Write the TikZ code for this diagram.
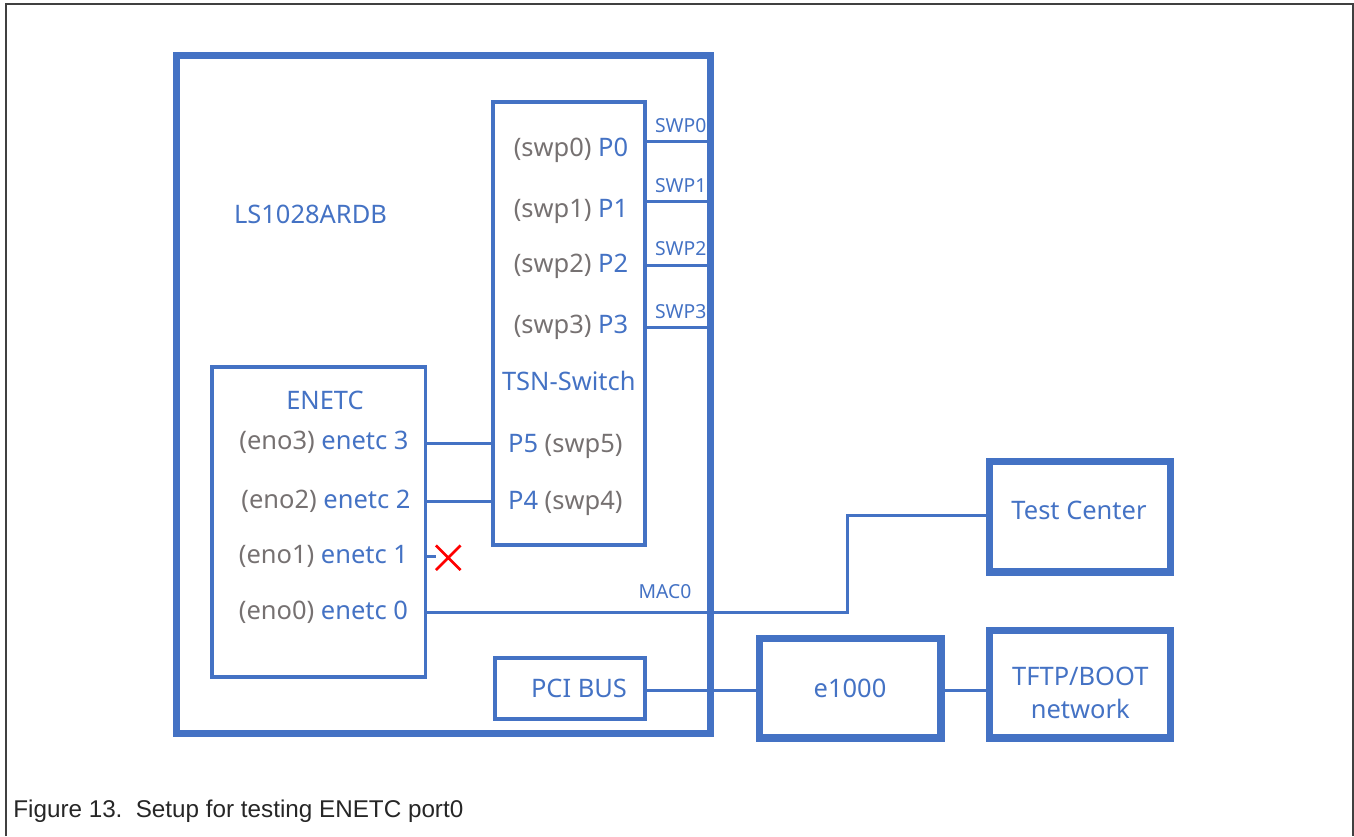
\documentclass[tikz,border=0pt]{standalone}
\usepackage{fontspec}
\setmainfont{Noto Sans}
\newfontfamily\capfont{Liberation Sans}
\usetikzlibrary{positioning}
\usetikzlibrary{shapes.misc}

\definecolor{nxpblue}{HTML}{4472C4}
\definecolor{portgray}{HTML}{767171}
\definecolor{framegray}{HTML}{404040}

\tikzset{
    thickbox/.style={draw=nxpblue, line width=4pt, text=nxpblue, font=\fontsize{14.5}{18.7}\selectfont, inner sep=0pt},
    thinbox/.style={draw=nxpblue, line width=2.2pt, text=nxpblue, font=\fontsize{14.5}{18.7}\selectfont, inner sep=0pt},
    lbl/.style={text=nxpblue, font=\fontsize{14.5}{18.7}\selectfont, inner sep=0pt},
    swplbl/.style={text=nxpblue, font=\fontsize{11}{13}\selectfont, inner sep=0pt},
    wire/.style={draw=nxpblue, line width=1.7pt},
}

\begin{document}
\begin{tikzpicture}[x=0.02cm, y=-0.02cm]
            % Frame
            \useasboundingbox (0,0) rectangle (1354,836);
            \draw[framegray, line width=1.1pt] (6,836) -- (6,4) -- (1352.7,4) -- (1352.7,836);

            % Boxes
            \node[thickbox, minimum width=10.7cm, minimum height=13.57cm] (board) at (443.5,394.6) {};
            \node[thinbox, minimum width=3.04cm, minimum height=8.86cm] (tsn) at (569,323.2) {};
            \node[thinbox, minimum width=4.27cm, minimum height=6.2cm] (enetc) at (318.75,522) {};
            \node[thinbox, minimum width=3cm, minimum height=1.22cm] (pci) at (570,688.5) {};
            \node[thickbox, minimum width=3.62cm, minimum height=2.22cm] (testc) at (1080.3,516.5) {};
            \node[thickbox, minimum width=3.64cm, minimum height=2cm] (e1000) at (850,688) {e1000};
            \node[thickbox, minimum width=3.62cm, minimum height=2.16cm] (tftp) at (1080.3,684) {};

            % Labels
            \node[lbl] (brdname) at (310.5,214.7) {LS1028ARDB};
            \node[lbl] (pcibus) at (579,688.5) {PCI BUS};
            \node[lbl] (testname) at (1079,510.5) {Test Center};
            \node[lbl, align=center] (tftpname) at (1080.3,692.5) {TFTP/BOOT\\network};
            \node[lbl] (p0) at (571,150) {\textcolor{portgray}{(swp0)} P0};
            \node[lbl] (p1) at (571,211.7) {\textcolor{portgray}{(swp1)} P1};
            \node[lbl] (p2) at (571,266.7) {\textcolor{portgray}{(swp2)} P2};
            \node[lbl] (p3) at (571,327.3) {\textcolor{portgray}{(swp3)} P3};
            \node[lbl] (tsnname) at (568.8,380.7) {TSN-Switch};
            \node[lbl] (p5) at (565.3,446) {P5 \textcolor{portgray}{(swp5)}};
            \node[lbl] (p4) at (565.3,503.3) {P4 \textcolor{portgray}{(swp4)}};
            \node[lbl] (enetcname) at (325,400.7) {ENETC};
            \node[lbl] (eno3) at (324,442.7) {\textcolor{portgray}{(eno3)} enetc 3};
            \node[lbl] (eno2) at (326,501.7) {\textcolor{portgray}{(eno2)} enetc 2};
            \node[lbl] (eno1) at (323.5,556.7) {\textcolor{portgray}{(eno1)} enetc 1};
            \node[lbl] (eno0) at (323.5,612.3) {\textcolor{portgray}{(eno0)} enetc 0};

            % Switch ports
            \coordinate (swp0) at (tsn.east |- 0,141.7);
            \coordinate (swp1) at (tsn.east |- 0,201.7);
            \coordinate (swp2) at (tsn.east |- 0,265);
            \coordinate (swp3) at (tsn.east |- 0,327.3);
            \draw[wire] (swp0) -- node[swplbl, above=4.2pt] {SWP0} (swp0 -| board.east);
            \draw[wire] (swp1) -- node[swplbl, above=4.2pt] {SWP1} (swp1 -| board.east);
            \draw[wire] (swp2) -- node[swplbl, above=4.2pt] {SWP2} (swp2 -| board.east);
            \draw[wire] (swp3) -- node[swplbl, above=4.2pt] {SWP3} (swp3 -| board.east);

            % ENETC ports
            \coordinate (en3) at (enetc.east |- 0,443.3);
            \coordinate (en2) at (enetc.east |- 0,501.7);
            \coordinate (en1) at (enetc.east |- 0,556.7);
            \coordinate (en0) at (enetc.east |- 0,612.3);
            \draw[wire] (en3) -- (en3 -| tsn.west);
            \draw[wire] (en2) -- (en2 -| tsn.west);
            \node[cross out, draw=red, line width=1.5pt, minimum size=0.44cm, inner sep=0pt] (cut) at (448.3,557.7) {};
            \draw[wire] (en1) -- (en1 -| cut.west);

            % MAC0 to test center
            \coordinate (bend) at (847.5,515);
            \draw[wire] (en0) -| (bend) -- (bend -| testc.west);
            \node[swplbl, anchor=west] (mac0) at (638.3,591.7) {MAC0};

            % PCI path
            \draw[wire] (pci.east |- 0,690) -- (e1000.west |- 0,690);
            \draw[wire] (e1000.east |- 0,690) -- (tftp.west |- 0,690);

            % Caption
            \node[anchor=base west, inner sep=0pt, text=black!85, font=\capfont\fontsize{13.8}{16}\selectfont] (caption) at (13,817.3) {Figure 13.\hspace{0.55em}Setup for testing ENETC port0};

\end{tikzpicture}
\end{document}
